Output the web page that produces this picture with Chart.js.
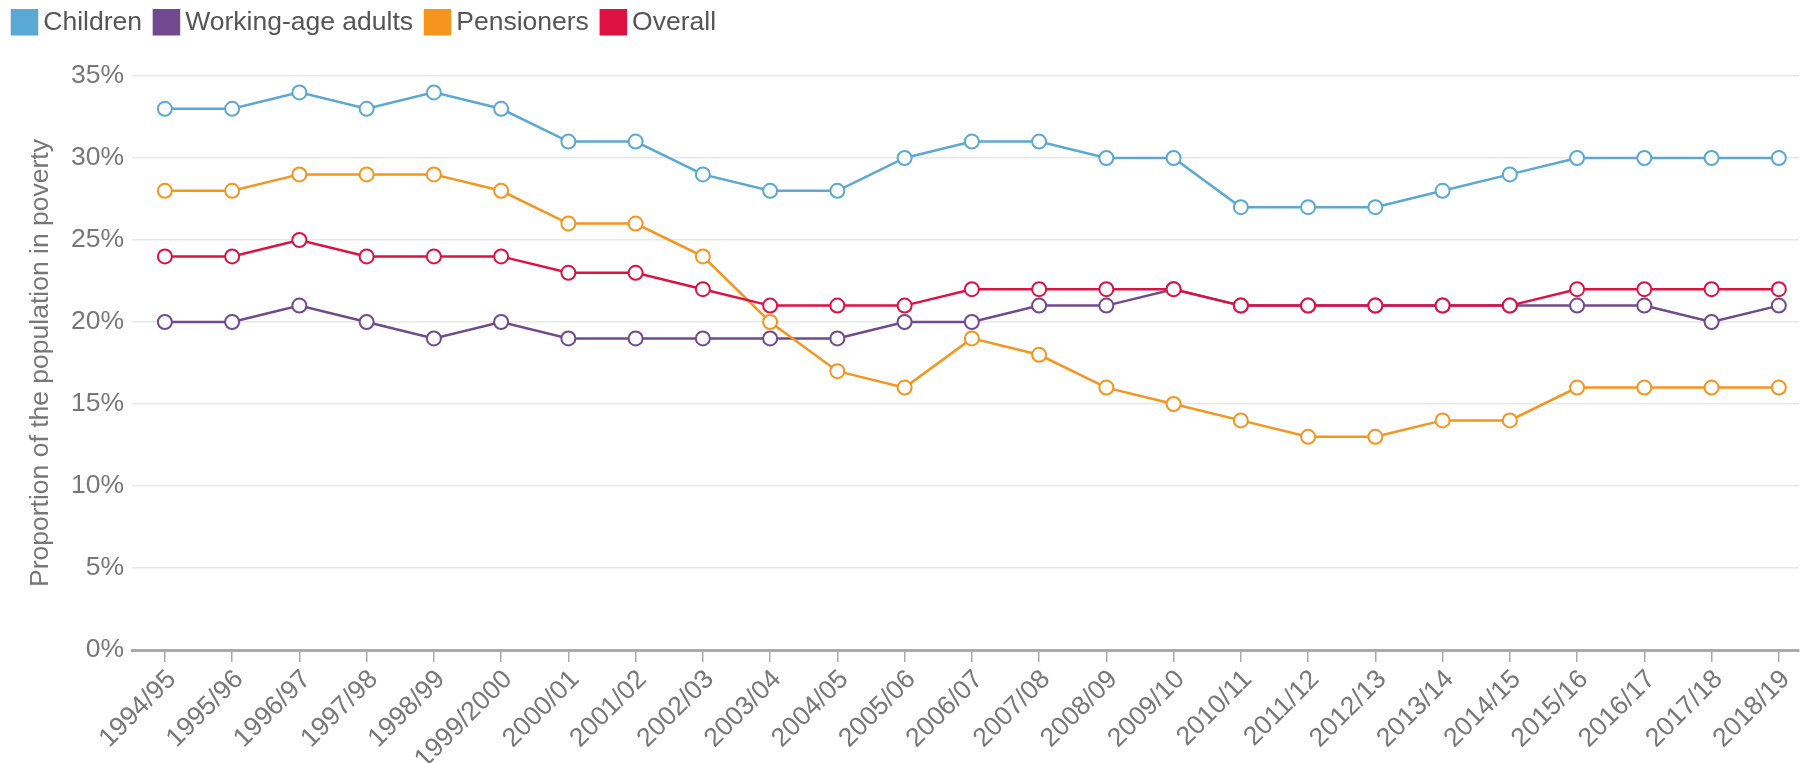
<!DOCTYPE html>
<html>
<head>
<meta charset="utf-8">
<script src="https://cdn.jsdelivr.net/npm/chart.js@4/dist/chart.umd.min.js"></script>
<style>
  html, body { margin: 0; padding: 0; background: #ffffff; }
  #wrap { width: 1808px; height: 763px; position: relative; }
</style>
</head>
<body>
<div id="wrap"><canvas id="c"></canvas></div>
<script>
const categories = ["1994/95","1995/96","1996/97","1997/98","1998/99","1999/2000","2000/01","2001/02","2002/03","2003/04","2004/05","2005/06","2006/07","2007/08","2008/09","2009/10","2010/11","2011/12","2012/13","2013/14","2014/15","2015/16","2016/17","2017/18","2018/19"];
const children   = [33,33,34,33,34,33,31,31,29,28,28,30,31,31,30,30,27,27,27,28,29,30,30,30,30];
const workingAge = [20,20,21,20,19,20,19,19,19,19,19,20,20,21,21,22,21,21,21,21,21,21,21,20,21];
const pensioners = [28,28,29,29,29,28,26,26,24,20,17,16,19,18,16,15,14,13,13,14,14,16,16,16,16];
const overall    = [24,24,25,24,24,24,23,23,22,21,21,21,22,22,22,22,21,21,21,21,21,22,22,22,22];
const yTicks = [0,5,10,15,20,25,30,35];
const seriesNames = ["Children","Working-age adults","Pensioners","Overall"];

const FONT = "'Liberation Sans', Arial, 'DejaVu Sans', sans-serif";
const FS = 26.5;
const toPts = arr => arr.map((v, i) => ({ x: i, y: v }));

function ds(label, values, color, order) {
  return {
    label: label,
    data: toPts(values),
    borderColor: color,
    backgroundColor: color,
    borderWidth: 2.5,
    pointRadius: 7,
    pointHoverRadius: 7,
    pointBorderWidth: 2,
    pointBackgroundColor: '#ffffff',
    pointBorderColor: color,
    tension: 0,
    order: order
  };
}

// Legend: fixed height, and a tighter gap between colour box and text.
const legendTweak = {
  id: 'legendTweak',
  beforeLayout(chart) {
    const lg = chart.legend;
    if (lg && !lg.__patched) {
      const origFit = lg.fit;
      lg.fit = function () { origFit.call(this); this.height = 76; };
      const origDraw = lg.draw;
      lg.draw = function () {
        const ctx = this.ctx;
        const proto = Object.getPrototypeOf(ctx);
        const ft = proto.fillText;
        ctx.fillText = function (t, x, y, m) {
          return m === undefined ? ft.call(this, t, x - 7, y) : ft.call(this, t, x - 7, y, m);
        };
        ctx.save();
        ctx.translate(0, 4);
        try { origDraw.call(this); } finally {
          ctx.restore();
          delete ctx.fillText;
        }
      };
      lg.__patched = true;
    }
  }
};

new Chart(document.getElementById('c'), {
  type: 'line',
  data: {
    datasets: [
      ds(seriesNames[0], children,   '#5aa8d4', 1),
      ds(seriesNames[1], workingAge, '#71498f', 3),
      ds(seriesNames[2], pensioners, '#f5951f', 2),
      ds(seriesNames[3], overall,    '#dc1243', 0)
    ]
  },
  options: {
    responsive: true,
    maintainAspectRatio: false,
    animation: false,
    layout: { padding: { left: 7, right: 2, top: 0, bottom: 0 } },
    plugins: {
      tooltip: { enabled: false },
      legend: {
        position: 'top',
        align: 'start',
        labels: {
          boxWidth: 25,
          boxHeight: 24,
          padding: 5,
          color: '#555555',
          font: { family: FONT, size: FS },
          sort: (a, b) => a.datasetIndex - b.datasetIndex
        }
      }
    },
    scales: {
      x: {
        type: 'linear',
        min: -0.489,
        max: 24.3,
        afterBuildTicks: s => { s.ticks = categories.map((_, i) => ({ value: i })); },
        afterFit: s => { s.height = 113; },
        grid: {
          drawOnChartArea: false,
          drawTicks: true,
          tickLength: 12,
          color: '#aaaaaa',
          lineWidth: 1.5
        },
        border: { display: true, color: '#aaaaaa', width: 3 },
        ticks: {
          autoSkip: false,
          minRotation: 45,
          maxRotation: 45,
          padding: 2,
          labelOffset: 7,
          color: '#777777',
          font: { family: FONT, size: FS },
          callback: v => categories[v]
        }
      },
      y: {
        min: 0,
        max: 35,
        afterBuildTicks: s => { s.ticks = yTicks.map(v => ({ value: v })); },
        afterFit: s => { s.width = 125; },
        grid: {
          drawTicks: false,
          color: '#e8e8e8',
          lineWidth: 1.5
        },
        border: { display: false },
        ticks: {
          padding: 8,
          color: '#777777',
          font: { family: FONT, size: FS },
          callback: v => v + '%'
        },
        title: {
          display: true,
          text: 'Proportion of the population in poverty',
          color: '#777777',
          font: { family: FONT, size: FS },
          padding: { top: 18, bottom: 0 }
        }
      }
    }
  },
  plugins: [legendTweak]
});
</script>
</body>
</html>
